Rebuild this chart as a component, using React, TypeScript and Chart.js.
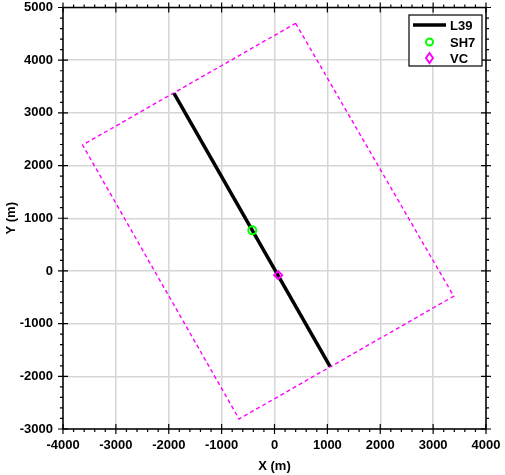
import React, { useEffect, useRef } from "react";
import { Chart, registerables } from "chart.js";

Chart.register(...registerables);

const xTicksRange = [-4000, 4000];
const yTicksRange = [-3000, 5000];
const majorStep = 1000;
const minorStep = 200;

const l39X = [-1900, 1050];
const l39Y = [3370, -1810];
const sh7X = [-420];
const sh7Y = [770];
const vcX = [70];
const vcY = [-80];
const boxX = [400, 3390, -670, -3630, 400];
const boxY = [4700, -480, -2810, 2390, 4700];

const legendLabels = ["L39", "SH7", "VC"];

const FONT = "'Liberation Sans', Arial, Helvetica, sans-serif";

function pts(xs: number[], ys: number[]) {
  return xs.map((x, i) => ({ x, y: ys[i] }));
}

const axisPlugin = {
  id: "axisDecor",
  afterDraw(chart: any) {
    const ctx = chart.ctx;
    const { left, right, top, bottom } = chart.chartArea;
    const xs = chart.scales.x;
    const ys = chart.scales.y;
    ctx.save();
    ctx.strokeStyle = "#000";
    ctx.lineWidth = 1.5;
    ctx.strokeRect(left, top, right - left, bottom - top);
    ctx.lineWidth = 1.2;
    ctx.beginPath();
    for (let v = xTicksRange[0]; v <= xTicksRange[1]; v += minorStep) {
      const px = xs.getPixelForValue(v);
      const major = v % majorStep === 0;
      const out = major ? 5 : 3;
      const inn = major ? 5 : 0;
      ctx.moveTo(px, bottom - inn);
      ctx.lineTo(px, bottom + out);
      ctx.moveTo(px, top + inn);
      ctx.lineTo(px, top - out);
    }
    for (let v = yTicksRange[0]; v <= yTicksRange[1]; v += minorStep) {
      const py = ys.getPixelForValue(v);
      const major = v % majorStep === 0;
      const out = major ? 5 : 3;
      const inn = major ? 5 : 0;
      ctx.moveTo(left + inn, py);
      ctx.lineTo(left - out, py);
      ctx.moveTo(right - inn, py);
      ctx.lineTo(right + out, py);
    }
    ctx.stroke();

    // legend
    const ds = chart.data.datasets;
    const bw = 73;
    const bh = 51;
    const bx = right - 4 - bw;
    const by = top + 7.5;
    ctx.fillStyle = "#fff";
    ctx.fillRect(bx, by, bw, bh);
    ctx.lineWidth = 1.2;
    ctx.strokeStyle = "#000";
    ctx.strokeRect(bx, by, bw, bh);
    ctx.font = `bold 13px ${FONT}`;
    ctx.textBaseline = "middle";
    ctx.textAlign = "left";
    const rows = [by + 10, by + 27, by + 43];
    const find = (label: string) => ds.find((d: any) => d.label === label);
    const l = find(legendLabels[0]);
    ctx.strokeStyle = l.borderColor;
    ctx.lineWidth = l.borderWidth;
    ctx.beginPath();
    ctx.moveTo(bx + 4, rows[0]);
    ctx.lineTo(bx + 37, rows[0]);
    ctx.stroke();
    ctx.fillStyle = "#000";
    ctx.fillText(legendLabels[0], bx + 41, rows[0] + 1);
    const s = find(legendLabels[1]);
    ctx.strokeStyle = s.pointBorderColor;
    ctx.lineWidth = s.pointBorderWidth;
    ctx.beginPath();
    ctx.arc(bx + 20.5, rows[1], 3.5, 0, Math.PI * 2);
    ctx.stroke();
    ctx.fillStyle = "#000";
    ctx.fillText(legendLabels[1], bx + 41, rows[1] + 1);
    const v = find(legendLabels[2]);
    ctx.strokeStyle = v.pointBorderColor;
    ctx.lineWidth = v.pointBorderWidth;
    ctx.beginPath();
    const cx = bx + 20.5;
    const cy = rows[2];
    ctx.moveTo(cx, cy - 5);
    ctx.lineTo(cx + 3.5, cy);
    ctx.lineTo(cx, cy + 5);
    ctx.lineTo(cx - 3.5, cy);
    ctx.closePath();
    ctx.stroke();
    ctx.fillStyle = "#000";
    ctx.fillText(legendLabels[2], bx + 41, rows[2] + 1);
    ctx.restore();
  },
};

export default function App() {
  const ref = useRef<HTMLCanvasElement>(null);
  useEffect(() => {
    document.body.style.margin = "0";
    const canvas = ref.current!;
    const chart = new Chart(canvas, {
      type: "scatter",
      data: {
        datasets: [
          {
            label: "VC",
            data: pts(vcX, vcY),
            showLine: false,
            pointStyle: "rectRot",
            pointRadius: 4,
            pointBorderWidth: 2,
            pointBorderColor: "#ff00ff",
            pointBackgroundColor: "rgba(0,0,0,0)",
          },
          {
            label: "SH7",
            data: pts(sh7X, sh7Y),
            showLine: false,
            pointStyle: "circle",
            pointRadius: 4,
            pointBorderWidth: 2,
            pointBorderColor: "#00ff00",
            pointBackgroundColor: "rgba(0,0,0,0)",
          },
          {
            label: "L39",
            data: pts(l39X, l39Y),
            showLine: true,
            borderColor: "#000000",
            borderWidth: 3.5,
            pointRadius: 0,
            borderCapStyle: "butt",
          },
          {
            label: "Box",
            data: pts(boxX, boxY),
            showLine: true,
            borderColor: "#ff00ff",
            borderWidth: 1.4,
            borderDash: [4, 3],
            pointRadius: 0,
          },
        ],
      },
      options: {
        responsive: false,
        animation: false,
        layout: { padding: { top: 7.5, right: 19, left: 0, bottom: 0 } },
        plugins: { legend: { display: false }, tooltip: { enabled: false } },
        scales: {
          x: {
            type: "linear",
            min: xTicksRange[0],
            max: xTicksRange[1],
            afterFit: (s: any) => {
              s.height = 46;
              s.paddingLeft = 0;
              s.paddingRight = 0;
            },
            ticks: {
              stepSize: majorStep,
              padding: 9,
              color: "#000",
              callback: (v: any) => String(v),
              font: { family: FONT, size: 13, weight: "bold" },
            },
            grid: { color: "#d6d6d6", lineWidth: 1.5, drawTicks: false },
            border: { display: false },
            title: {
              display: true,
              text: "X (m)",
              color: "#000",
              font: { family: FONT, size: 13, weight: "bold" },
              padding: { top: 2, bottom: 1 },
            },
          },
          y: {
            type: "linear",
            min: yTicksRange[0],
            max: yTicksRange[1],
            afterFit: (s: any) => {
              s.width = 63;
              s.paddingTop = 0;
              s.paddingBottom = 0;
            },
            ticks: {
              stepSize: majorStep,
              padding: 10,
              color: "#000",
              callback: (v: any) => String(v),
              font: { family: FONT, size: 13, weight: "bold" },
            },
            grid: { color: "#d6d6d6", lineWidth: 1.5, drawTicks: false },
            border: { display: false },
            title: {
              display: true,
              text: "Y (m)",
              color: "#000",
              font: { family: FONT, size: 13, weight: "bold" },
              padding: { top: 4, bottom: 2 },
            },
          },
        },
      },
      plugins: [axisPlugin],
    } as any);
    return () => chart.destroy();
  }, []);
  return (
    <div style={{ width: 505, height: 475 }}>
      <canvas ref={ref} width={505} height={475} style={{ display: "block" }} />
    </div>
  );
}
